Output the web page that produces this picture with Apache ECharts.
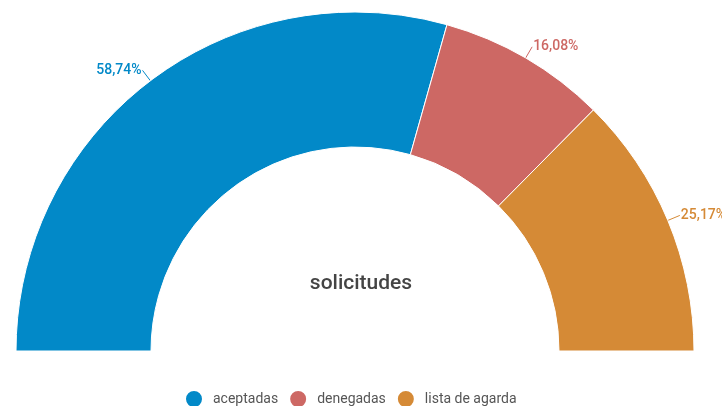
<!DOCTYPE html>
<html>
<head>
<meta charset="utf-8">
<script src="https://cdn.jsdelivr.net/npm/echarts@6/dist/echarts.min.js"></script>
<style>
  html, body { margin: 0; padding: 0; background: #fff; }
  #chart { width: 722px; height: 406px; }
</style>
</head>
<body>
<div id="chart"></div>
<script>
// Solicitudes por estado (%)
const categories = ['aceptadas', 'denegadas', 'lista de agarda'];
const values = [58.74, 16.08, 25.17];
const colors = ['#0289C8', '#CD6864', '#D58A36'];
const centerTitle = 'solicitudes';

const chart = echarts.init(document.getElementById('chart'));

chart.setOption({
  animation: false,
  color: colors,
  title: {
    text: centerTitle,
    left: 356,
    top: 268,
    textAlign: 'center',
    textStyle: { fontFamily: 'Roboto', fontSize: 21, fontWeight: 500, color: '#444' }
  },
  legend: {
    top: 384,
    left: 179,
    icon: 'circle',
    itemWidth: 18,
    itemHeight: 18,
    itemGap: 10,
    textStyle: { fontFamily: 'Roboto', fontSize: 14, color: '#555', padding: [0, 0, 0, 5] },
    data: categories
  },
  series: [{
    type: 'pie',
    center: [355, 351],
    radius: [204, 339],
    startAngle: 180,
    endAngle: 0,
    clockwise: true,
    avoidLabelOverlap: false,
    itemStyle: { borderColor: '#fff', borderWidth: 1 },
    label: {
      show: true,
      position: 'outside',
      fontFamily: 'Roboto',
      fontSize: 14,
      fontWeight: 500,
      color: 'inherit',
      distanceToLabelLine: 1,
      formatter: p => p.value.toFixed(2).replace('.', ',') + '%'
    },
    labelLine: { show: true, length: 13, length2: 0, lineStyle: { width: 1 } },
    data: categories.map((c, i) => ({
      name: c,
      value: values[i],
      label: { color: colors[i] },
      labelLine: { lineStyle: { color: colors[i] } }
    }))
  }]
});
</script>
</body>
</html>
